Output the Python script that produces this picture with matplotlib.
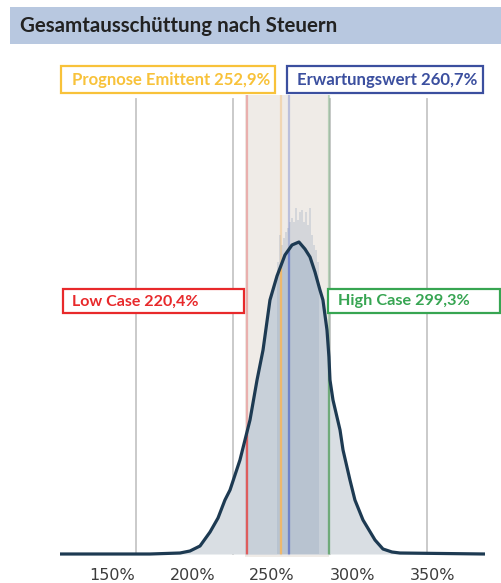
import numpy as np
import matplotlib
matplotlib.use("Agg")
import matplotlib.pyplot as plt
from matplotlib.patches import Rectangle

# distribution curve (value in %, relative frequency)
curve_x = [39.7, 126.7, 155.7, 165.3, 175.0, 184.7, 192.4, 199.1, 204.0, 213.6,
           223.3, 230.1, 235.9, 242.6, 249.4, 257.1, 263.9, 270.6, 276.4, 281.3,
           286.1, 290.9, 293.8, 297.7, 299.6, 300.6, 303.5, 310.3, 313.2, 319.9,
           324.7, 332.5, 344.1, 351.8, 360.5, 368.2, 450.4]
curve_y = [0.0, 0.0, 0.01, 0.03, 0.08, 0.22, 0.36, 0.54, 0.64, 0.94,
           1.34, 1.74, 2.04, 2.54, 2.78, 2.99, 3.09, 3.12, 3.05, 2.97,
           2.82, 2.64, 2.54, 2.24, 1.97, 1.74, 1.54, 1.24, 1.04, 0.74,
           0.54, 0.34, 0.14, 0.05, 0.02, 0.01, 0.0]

# noisy histogram bins around the peak
hist_x = [250.4, 252.4, 254.3, 256.2, 258.2, 260.1, 262.0, 263.9, 265.9, 267.8,
          269.8, 271.7, 273.6, 275.6, 277.5, 279.4, 281.4, 283.3, 285.2, 287.2, 289.1]
hist_y = [2.92, 3.19, 3.09, 3.16, 3.22, 3.26, 3.32, 3.36, 3.32, 3.46,
          3.34, 3.42, 3.44, 3.32, 3.42, 3.29, 3.46, 3.19, 3.09, 3.04, 2.92]

low_case = 220.4
prognose = 252.9
erwartung = 260.7
high_case = 299.3

grid_x = [113.2, 206.9, 300.6, 394.3]
tick_pos = [90.0, 168.2, 244.6, 322.8, 400.1]
tick_labels = ["150%", "200%", "250%", "300%", "350%"]

W, H = 501, 583
fig = plt.figure(figsize=(W / 100, H / 100), dpi=100)
fig.patch.set_facecolor("white")

ax = fig.add_axes([60 / W, (H - 557) / H, 425 / W, 462 / H])
ax.set_xlim(39.7, 450.4)
ax.set_ylim(-0.03, 4.59)
for s in ax.spines.values():
    s.set_visible(False)
ax.set_yticks([])
ax.set_xticks(tick_pos, tick_labels)
ax.tick_params(axis="x", length=0, pad=8, labelsize=11.5, labelcolor="#3c3c3c")

band = ax.axvspan(low_case - 2, high_case, color="#efebe7", lw=0, zorder=0)
for g in grid_x:
    ax.plot([g, g], [0, 4.55], color="#c6c6c6", lw=1.3, zorder=1)

fill = ax.fill_between(curve_x, 0, curve_y, color="#d9dee3", lw=0, zorder=2)
fill_in = ax.fill_between(curve_x, 0, curve_y, color="#c8d0d9", lw=0, zorder=2.1)
fill_in.set_clip_path(band)

ax.bar(hist_x, hist_y, width=1.9, color="#8fa3b9", alpha=0.28, lw=0, zorder=2.5)

clip_path = fill.get_paths()[0]
markers = [(low_case, "#e05656"), (prognose, "#f2b867"),
           (erwartung, "#6d7fc9"), (high_case, "#6aa874")]
for v, c in markers:
    ax.plot([v, v], [0, 4.59], color=c, lw=1.6, alpha=0.4, zorder=3)
    strong, = ax.plot([v, v], [0, 4.59], color=c, lw=1.6, alpha=0.9, zorder=3.5)
    strong.set_clip_path(clip_path, ax.transData)

ax.plot(curve_x, curve_y, color="#1d3a52", lw=2.3, zorder=4, solid_capstyle="butt")

# overlay in pixel coordinates for title bar and label boxes
ov = fig.add_axes([0, 0, 1, 1], zorder=10)
ov.set_xlim(0, W)
ov.set_ylim(H, 0)
ov.axis("off")
ov.patch.set_alpha(0)

renderer = fig.canvas.get_renderer()


def fit(t, width):
    bb = t.get_window_extent(renderer)
    t.set_fontsize(t.get_fontsize() * width / bb.width)


ov.add_patch(Rectangle((10, 7), 491, 37, color="#b8c8e0", lw=0))
title = ov.text(20, 26, "Gesamtausschüttung nach Steuern", fontsize=13,
                fontweight="bold", family="Lato", color="#222222", va="center")
fit(title, 317)

boxes = [
    (61, 66, 214, 27, "Prognose Emittent 252,9%", "#f8c23a", 72, 198),
    (287, 66, 196, 27, "Erwartungswert 260,7%", "#3b4f9f", 297, 181),
    (63, 289, 181, 24, "Low Case 220,4%", "#e8292b", 72, 127),
    (328, 289, 172, 24, "High Case 299,3%", "#37a552", 338, 132),
]
for x0, y0, w, h, txt, c, tx, tw in boxes:
    ov.add_patch(Rectangle((x0, y0), w, h, facecolor="white", edgecolor=c, lw=1.6))
    t = ov.text(tx, y0 + h / 2 + 0.5, txt, fontsize=11, fontweight="bold",
                family="Lato", color=c, va="center")
    fit(t, tw)

fig.savefig("out.png", dpi=100)
